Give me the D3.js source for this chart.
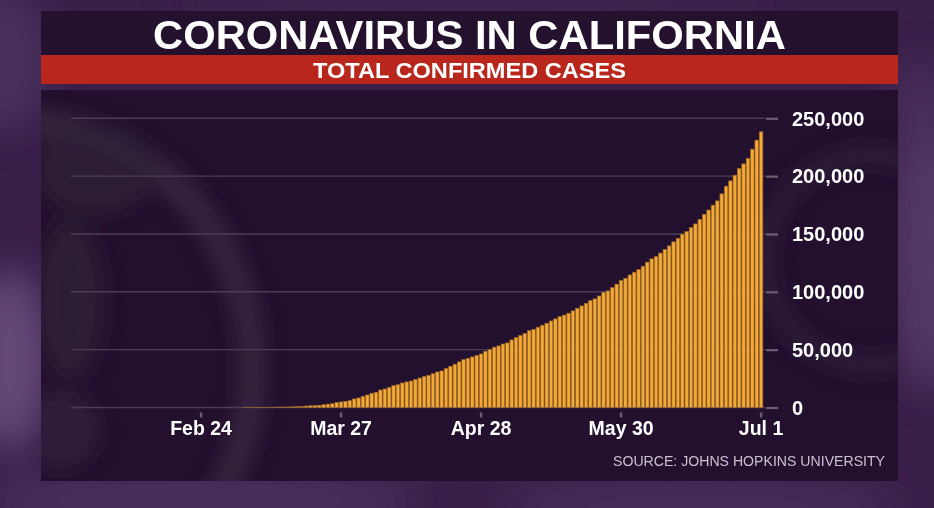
<!DOCTYPE html>
<html><head><meta charset="utf-8">
<script src="https://cdn.jsdelivr.net/npm/d3@7/dist/d3.min.js"></script>
<style>html,body{margin:0;padding:0;background:#3b2150;overflow:hidden}svg{display:block}</style>
</head><body><svg id="c" width="934" height="508"></svg>
<script>
const title = "CORONAVIRUS IN CALIFORNIA";
const subtitle = "TOTAL CONFIRMED CASES";
const source = "SOURCE: JOHNS HOPKINS UNIVERSITY";
const startDate = "2020-01-26";
// cumulative confirmed cases, one value per day from Jan 26 to Jul 1
const casesJan = [2,2,2,2,2,3];
const casesFeb = [3,6,6,6,6,6,6,6,6,6,6,6,6,6,6,6,6,6,6,10,10,10,10,10,10,10,10,10,12];
const casesMar = [12,21,25,35,51,59,81,95,101,144,177,221,282,340,426,557,700,900,1250,1500,1650,1900,2400,2900,3300,4200,4800,5300,5900,7400,8200];
const casesApr = [9700,10800,12300,13100,15100,16000,17400,18900,19700,21200,22100,22900,24100,25500,26700,27800,29200,30700,31600,33600,35600,37400,39400,41400,42500,43700,45000,46300,48600,50000];
const casesMay = [52100,53200,54900,55800,58400,60400,62200,63900,66400,67600,69400,71100,72800,74800,76600,78600,79900,81500,83500,85800,87800,90100,92400,93900,96400,99600,100800,103600,106600,109700,111700];
const casesJun = [114600,116900,119200,122100,125600,128500,130400,133500,136500,139700,143200,146300,149800,152100,155500,158700,162600,167000,170700,174900,178600,184700,191300,195900,200800,206600,210600,215200,223300,231100];
const casesJul = [238300];
const xTickDates = ["2020-02-24","2020-03-27","2020-04-28","2020-05-30","2020-07-01"];
const xTickLabels = ["Feb 24","Mar 27","Apr 28","May 30","Jul 1"];
const yTicks = [0,50000,100000,150000,200000,250000];

const cases = [].concat(casesJan,casesFeb,casesMar,casesApr,casesMay,casesJun,casesJul);
const fmtKey = d3.timeFormat("%Y-%m-%d");
const parse = d3.timeParse("%Y-%m-%d");
const start = parse(startDate);
const data = cases.map((v,i)=>({key: fmtKey(d3.timeDay.offset(start,i)), v}));

const svg = d3.select("#c");
const defs = svg.append("defs");
const blur = defs.append("filter").attr("id","blur").attr("x","-50%").attr("y","-50%").attr("width","200%").attr("height","200%");
blur.append("feGaussianBlur").attr("stdDeviation",18);
const blur2 = defs.append("filter").attr("id","blur2").attr("x","-50%").attr("y","-50%").attr("width","200%").attr("height","200%");
blur2.append("feGaussianBlur").attr("stdDeviation",10);

// background texture
svg.append("rect").attr("width",934).attr("height",508).attr("fill","#3a2049");
const bg = svg.append("g").attr("filter","url(#blur)");
[[10,360,40,90,"#6a4d7e",0.9],[0,60,50,70,"#4d3262",0.8],[930,250,40,140,"#5a3e6d",0.8],[920,110,30,50,"#4c3160",0.8],
 [200,500,220,30,"#4e3463",0.8],[700,505,200,25,"#4a2f5e",0.8],[470,0,300,12,"#45295a",0.7]].forEach(b=>{
  bg.append("ellipse").attr("cx",b[0]).attr("cy",b[1]).attr("rx",b[2]).attr("ry",b[3]).attr("fill",b[4]).attr("opacity",b[5]);
});

// panels
svg.append("rect").attr("x",41).attr("y",11).attr("width",857).attr("height",44).attr("fill","#23112e");
svg.append("rect").attr("x",41).attr("y",90).attr("width",857).attr("height",391).attr("fill","#22102e");
const clip = defs.append("clipPath").attr("id","pclip");
clip.append("rect").attr("x",41).attr("y",90).attr("width",857).attr("height",391);
const ghost = svg.append("g").attr("clip-path","url(#pclip)").append("g").attr("filter","url(#blur2)");
ghost.append("ellipse").attr("cx",20).attr("cy",370).attr("rx",232).attr("ry",248).attr("fill","none").attr("stroke","#382843").attr("stroke-width",26).attr("opacity",0.85);
ghost.append("ellipse").attr("cx",95).attr("cy",170).attr("rx",60).attr("ry",45).attr("fill","#302039").attr("opacity",0.8);
ghost.append("ellipse").attr("cx",70).attr("cy",300).attr("rx",35).attr("ry",80).attr("fill","#2f1f39").attr("opacity",0.8);
ghost.append("ellipse").attr("cx",60).attr("cy",430).attr("rx",40).attr("ry",40).attr("fill","#33223f").attr("opacity",0.7);
ghost.append("circle").attr("cx",870).attr("cy",260).attr("r",105).attr("fill","none").attr("stroke","#32223e").attr("stroke-width",18).attr("opacity",0.7);

svg.append("rect").attr("x",41).attr("y",55).attr("width",857).attr("height",29).attr("fill","#b9261b");

svg.append("text").attr("x",469.5).attr("y",49).attr("text-anchor","middle")
  .attr("font-family","'Liberation Sans', Arial, sans-serif").attr("font-weight","bold").attr("font-size",40)
  .attr("textLength",633).attr("lengthAdjust","spacingAndGlyphs").attr("fill","#ffffff").text(title);
svg.append("text").attr("x",469.5).attr("y",78).attr("text-anchor","middle")
  .attr("font-family","'Liberation Sans Narrow','Liberation Sans', Arial, sans-serif").attr("font-weight","bold").attr("font-size",22.5)
  .attr("textLength",313).attr("lengthAdjust","spacingAndGlyphs").attr("fill","#ffffff").text(subtitle);

// scales
const x = d3.scaleBand().domain(data.map(d=>d.key)).range([72,763.25]).paddingInner(0.2).paddingOuter(0.1);
const y = d3.scaleLinear().domain([0,250000]).range([407.5,118.3]);

// gridlines
svg.append("g").selectAll("line").data(yTicks).join("line")
  .attr("x1",71).attr("x2",765).attr("y1",d=>y(d)).attr("y2",d=>y(d))
  .attr("stroke","#4c3c58").attr("stroke-width",1.4);

// y axis
const yAxis = svg.append("g").attr("transform","translate(766,0)")
  .call(d3.axisRight(y).tickValues(yTicks).tickSizeInner(12).tickSizeOuter(0).tickPadding(14).tickFormat(d3.format(",")));
yAxis.select(".domain").remove();
yAxis.selectAll(".tick line").attr("stroke","#6b5e72").attr("stroke-width",2.2);
yAxis.selectAll(".tick text").attr("fill","#ffffff").attr("font-family","'Liberation Sans', Arial, sans-serif")
  .attr("font-weight","bold").attr("font-size",20).attr("dy","0.34em");

// bars
svg.append("g").selectAll("rect").data(data).join("rect")
  .attr("x",d=>x(d.key)).attr("width",x.bandwidth())
  .attr("y",d=>y(d.v)).attr("height",d=>y(0)-y(d.v))
  .attr("fill","#f5a935")
  .attr("stroke",d=> (y(0)-y(d.v))>0.05 ? "#9c6a2c" : "none").attr("stroke-width",0.7);

// x axis
const labelMap = new Map(xTickDates.map((d,i)=>[d,xTickLabels[i]]));
const xAxis = svg.append("g").attr("transform","translate(0,412.5)")
  .call(d3.axisBottom(x).tickValues(xTickDates).tickSizeInner(5).tickSizeOuter(0).tickPadding(4).tickFormat(d=>labelMap.get(d)));
xAxis.select(".domain").remove();
xAxis.selectAll(".tick line").attr("stroke","#6b5e72").attr("stroke-width",2.5);
xAxis.selectAll(".tick text").attr("fill","#ffffff").attr("font-family","'Liberation Sans', Arial, sans-serif")
  .attr("font-weight","bold").attr("font-size",19.5);

svg.append("text").attr("x",885).attr("y",465.5).attr("text-anchor","end")
  .attr("font-family","'Liberation Sans', Arial, sans-serif").attr("font-size",15.5)
  .attr("textLength",272).attr("lengthAdjust","spacingAndGlyphs").attr("fill","#c9c1cd").text(source);
</script></body></html>
